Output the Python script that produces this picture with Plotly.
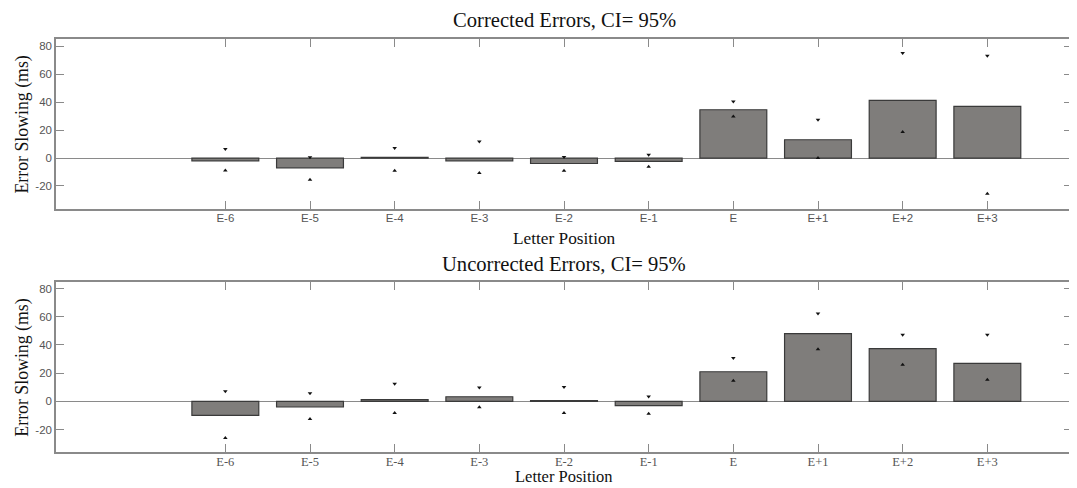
import plotly.graph_objects as go
from plotly.subplots import make_subplots

categories = ["E-6", "E-5", "E-4", "E-3", "E-2", "E-1", "E", "E+1", "E+2", "E+3"]

corrected_mean = [-2.0, -7.0, 0.5, -2.0, -3.9, -2.4, 34.6, 13.1, 41.3, 37.0]
corrected_upper = [6.5, 0.5, 7.2, 11.9, 0.7, 2.4, 40.6, 27.5, 75.3, 73.3]
corrected_lower = [-9.0, -15.5, -9.1, -10.8, -9.1, -6.2, 29.8, 0.0, 18.6, -25.6]

uncorrected_mean = [-9.9, -4.0, 1.2, 3.3, 0.5, -3.0, 21.0, 48.0, 37.4, 27.0]
uncorrected_upper = [7.1, 5.7, 12.5, 9.9, 10.2, 3.5, 30.8, 62.4, 47.3, 47.3]
uncorrected_lower = [-26.0, -12.5, -8.3, -4.2, -8.3, -8.7, 14.7, 36.9, 26.0, 15.4]

y_tickvals = [-20, 0, 20, 40, 60, 80]
y_ticktext = ["-20", "0", "20", "40", "60", "80"]

titles = ["Corrected Errors, CI= 95%", "Uncorrected Errors, CI= 95%"]
x_title = "Letter Position"
y_title = "Error Slowing (ms)"

fig = make_subplots(rows=2, cols=1, vertical_spacing=0.178)

panels = [
    (corrected_mean, corrected_upper, corrected_lower),
    (uncorrected_mean, uncorrected_upper, uncorrected_lower),
]

for i, (m, up, lo) in enumerate(panels, start=1):
    fig.add_trace(go.Bar(
        x=categories, y=m, width=0.79,
        marker=dict(color="#7f7d7b", line=dict(color="#3a3a3a", width=1.2)),
        showlegend=False, name="mean"), row=i, col=1)
    fig.add_trace(go.Scatter(
        x=categories, y=up, mode="markers",
        marker=dict(symbol="triangle-down", size=4, color="#111111"),
        showlegend=False, name="upper CI"), row=i, col=1)
    fig.add_trace(go.Scatter(
        x=categories, y=lo, mode="markers",
        marker=dict(symbol="triangle-up", size=4, color="#111111"),
        showlegend=False, name="lower CI"), row=i, col=1)

axis_common = dict(
    showline=True, linecolor="#8a8a8a", linewidth=1.5, mirror="ticks",
    ticks="inside", ticklen=8, tickcolor="#8a8a8a", tickwidth=1,
    showgrid=False, automargin=False,
)
sans_ticks = dict(family="Liberation Sans, Arial", size=11.5, color="#555555")
serif_ticks = dict(family="Liberation Serif, Times New Roman", size=12.5, color="#555555")

for i, yr, xf in [(1, [-36.5, 85.3], sans_ticks), (2, [-35.9, 84.4], serif_ticks)]:
    fig.update_xaxes(type="category", range=[-2, 10], categoryorder="array",
                     categoryarray=categories, ticklabelstandoff=-3, zeroline=False,
                     tickfont=xf, **axis_common, row=i, col=1)
    fig.update_yaxes(range=yr, tickvals=y_tickvals, ticktext=y_ticktext,
                     zeroline=True, zerolinecolor="#8a8a8a", zerolinewidth=1.2,
                     tickfont=sans_ticks, **axis_common, row=i, col=1)

# page body has an 8px margin: figure is drawn from (8, 8)
fig.update_layout(
    width=1069, height=480,
    margin=dict(l=48, r=5, t=31, b=36),
    paper_bgcolor="white", plot_bgcolor="white",
    font=dict(family="Liberation Serif, Times New Roman", color="#111111"),
)
fig.update_yaxes(domain=[0.5884, 1.0], row=1, col=1)
fig.update_yaxes(domain=[0.0, 0.4107], row=2, col=1)

serif = "Liberation Serif, Times New Roman"
ann = [
    dict(text=titles[0], x=0.5, y=1.047, size=20.6),
    dict(text=titles[1], x=0.5, y=0.456, size=20.6),
    dict(text=x_title, x=0.5, y=0.518, size=17.3),
    dict(text=x_title, x=0.5, y=-0.059, size=16.5),
]
for a in ann:
    fig.add_annotation(text=a["text"], x=a["x"], y=a["y"], xref="paper", yref="paper",
                       xanchor="center", yanchor="middle", showarrow=False,
                       font=dict(family=serif, size=a["size"], color="#111111"))
for yc in [0.794, 0.2054]:
    fig.add_annotation(text=y_title, x=-0.033, y=yc, xref="paper", yref="paper",
                       xanchor="center", yanchor="middle", showarrow=False, textangle=-90,
                       font=dict(family=serif, size=17.8, color="#111111"))

fig.write_html("out.html")
